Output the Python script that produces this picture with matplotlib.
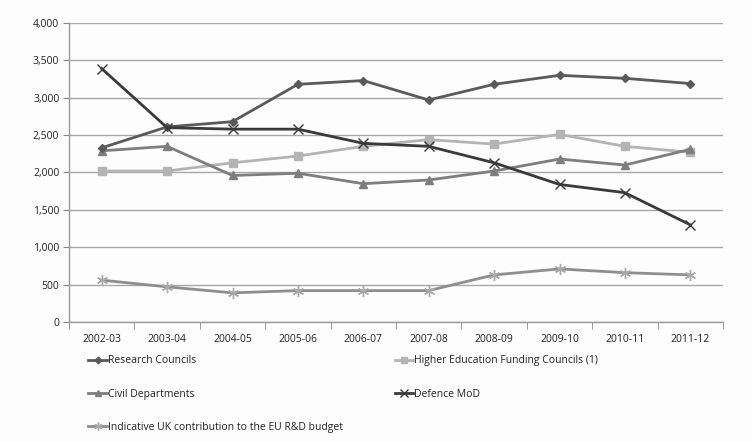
import matplotlib
matplotlib.use("Agg")
import matplotlib.pyplot as plt
from matplotlib.ticker import FuncFormatter, FixedLocator

years = ["2002-03", "2003-04", "2004-05", "2005-06", "2006-07",
         "2007-08", "2008-09", "2009-10", "2010-11", "2011-12"]
research_councils = [2330, 2610, 2680, 3180, 3230, 2970, 3180, 3300, 3260, 3190]
hefc = [2020, 2020, 2130, 2220, 2350, 2440, 2380, 2510, 2350, 2270]
civil_departments = [2290, 2350, 1960, 1990, 1850, 1900, 2020, 2180, 2100, 2310]
defence_mod = [3390, 2600, 2580, 2580, 2390, 2350, 2130, 1840, 1730, 1300]
eu_contribution = [560, 470, 390, 420, 420, 420, 630, 710, 660, 630]

plt.rcParams['font.family'] = ['Open Sans', 'DejaVu Sans']

fig = plt.figure(figsize=(7.52, 4.42), dpi=100)
fig.patch.set_facecolor('#fdfdfd')
ax = fig.add_axes([69/752, 1-322/442, (723-69)/752, (322-23)/442])
ax.set_facecolor('#fdfdfd')

x = list(range(len(years)))
lw = 2.0
l1, = ax.plot(x, research_councils, color='#5a5a5a', lw=lw, marker='D', ms=4.5, label='Research Councils', zorder=5)
l2, = ax.plot(x, hefc, color='#b4b4b4', lw=lw, marker='s', ms=6, label='Higher Education Funding Councils (1)', zorder=3)
l3, = ax.plot(x, civil_departments, color='#7e7e7e', lw=lw, marker='^', ms=6, label='Civil Departments', zorder=4)
l4, = ax.plot(x, defence_mod, color='#3a3a3a', lw=lw, marker='x', ms=7, mew=1.0, label='Defence MoD', zorder=6)
l5, = ax.plot(x, eu_contribution, color='#8e8e8e', lw=lw, marker=(6, 2, 0), ms=8, mew=1.0,
              mec='#aaaaaa', label='Indicative UK contribution to the EU R&D budget', zorder=3)

ax.set_xlim(-0.5, len(years) - 0.5)
ax.set_ylim(0, 4000)
ax.set_yticks(range(0, 4001, 500))
ax.yaxis.set_major_formatter(FuncFormatter(lambda v, p: f"{int(v):,}"))
ax.set_xticks(x)
ax.set_xticklabels(years)
ax.xaxis.set_minor_locator(FixedLocator([i - 0.5 for i in range(len(years) + 1)]))
ax.tick_params(axis='x', which='major', length=0, pad=9, labelsize=7.5, colors='#222222')
ax.tick_params(axis='x', which='minor', length=5, color='#888888', direction='out')
ax.tick_params(axis='y', length=4, color='#888888', labelsize=7.5, colors='#222222', pad=3)
ax.grid(axis='y', color='#a8a8a8', lw=1.0)
ax.set_axisbelow(True)
for s in ['top', 'right']:
    ax.spines[s].set_visible(False)
for s in ['left', 'bottom']:
    ax.spines[s].set_color('#999999')
    ax.spines[s].set_linewidth(1.0)

handles = [l1, l3, l5, l2, l4]
leg = fig.legend(handles=handles, labels=[h.get_label() for h in handles], ncol=2,
                 loc='upper left', bbox_to_anchor=(84/752, 1-351/442), frameon=False,
                 fontsize=7.5, handlelength=1.8, handletextpad=0.1, columnspacing=4.95,
                 labelspacing=2.15, markerscale=0.75, borderaxespad=0)
for t in leg.get_texts():
    t.set_color('#222222')

fig.savefig('out.png', dpi=100, facecolor=fig.get_facecolor())
